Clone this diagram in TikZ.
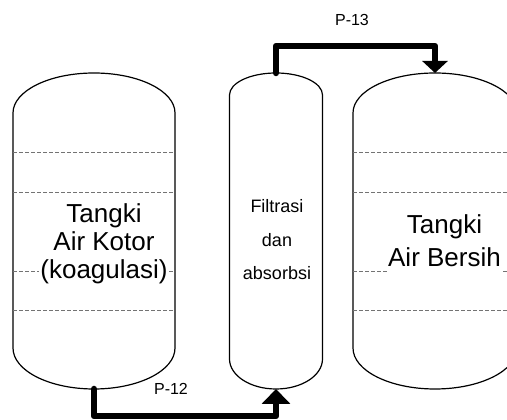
\documentclass[tikz,border=0pt]{standalone}
\usepackage{fontspec}
\setmainfont{Liberation Sans}
\usetikzlibrary{arrows.meta}

\tikzset{
  vessel/.style={line width=1.2pt, draw=black, line join=round},
  level/.style={draw=black!55, line width=0.75pt, dash pattern=on 4pt off 2pt},
  pipe/.style={line width=6.5pt, line cap=round, line join=round, draw=black},
  bigtank/.style={font=\fontsize{26}{28}\selectfont, align=center, fill=white, inner sep=1pt},
  columnlbl/.style={font=\fontsize{18}{33.5}\selectfont, align=center, inner sep=1pt},
  pipelbl/.style={font=\fontsize{16}{18}\selectfont, inner sep=0pt, anchor=base},
}

\begin{document}
\begin{tikzpicture}[x=1pt, y=1pt]
  \useasboundingbox (0,0) rectangle (507,420);
  \fill[white] (0,0) rectangle (507,420);
  \clip (0,0) rectangle (507,420);

  % Dirty-water tank (coagulation)
  \draw[vessel] (13,72) -- (13,307)
    arc[start angle=180, end angle=0, x radius=81, y radius=40]
    -- (175,72)
    arc[start angle=0, end angle=-180, x radius=81, y radius=41] -- cycle;
  \foreach \yy in {268,228,149,110} \draw[level] (13,\yy) -- (175,\yy);

  % Filtration / absorption column
  \draw[vessel] (229.5,61) -- (229.5,325)
    arc[start angle=180, end angle=0, x radius=46.5, y radius=22]
    -- (322.5,61)
    arc[start angle=0, end angle=-180, x radius=46.5, y radius=30] -- cycle;

  % Clean-water tank
  \draw[vessel] (353,72) -- (353,307)
    arc[start angle=180, end angle=0, x radius=82, y radius=40]
    -- (517,72)
    arc[start angle=0, end angle=-180, x radius=82, y radius=41] -- cycle;
  \foreach \yy in {268,228,149,110} \draw[level] (353,\yy) -- (517,\yy);

  % Labels
  \node[bigtank] (kotor) at (104,176) {Tangki\\Air Kotor\\(koagulasi)};
  \node[bigtank, text depth=6pt] (bersih) at (444.5,176.5) {Tangki\\[5pt]Air Bersih};
  \node[columnlbl] (filter) at (277,180) {Filtrasi\\dan\\absorbsi};

  % Nozzles
  \coordinate (kotorOut) at (94,31);
  \coordinate (filterIn) at (276,31);
  \coordinate (filterOut) at (276,347);
  \coordinate (bersihIn) at (435,347);

  % Piping
  \draw[pipe, -{Triangle[width=28pt,length=15pt]}]
    (kotorOut) -- ++(0,-27) -| (filterIn);
  \draw[pipe, -{Triangle[width=25pt,length=12pt]}]
    (filterOut) -- ++(0,27) -| (bersihIn);

  \node[pipelbl] (p12) at (171,25) {P-12};
  \node[pipelbl] (p13) at (352,394) {P-13};
\end{tikzpicture}
\end{document}
